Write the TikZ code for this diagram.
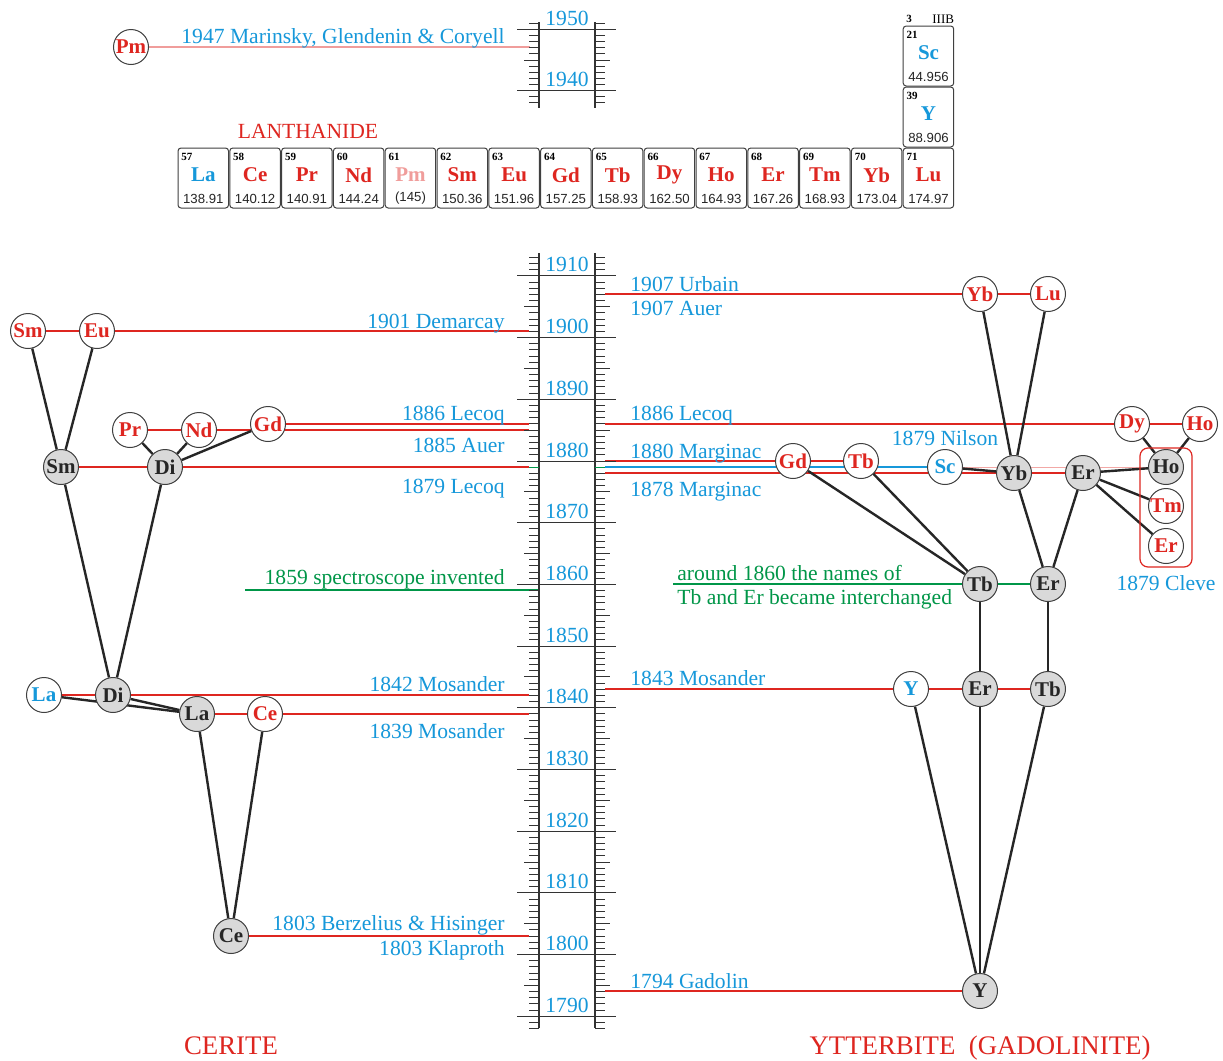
\documentclass[tikz,border=0pt]{standalone}
\usepackage{fontspec}
\setmainfont{Liberation Serif}
\setsansfont{Liberation Sans}
\usetikzlibrary{positioning}
\usetikzlibrary{backgrounds}
\definecolor{myred}{RGB}{222,38,32}
\definecolor{myblue}{RGB}{22,152,218}
\definecolor{mygreen}{RGB}{0,150,72}

\tikzset{
  elem/.style={circle,draw=black!75,line width=0.5pt,fill=white,minimum size=17.5pt,inner sep=0pt,font=\fontsize{10.5}{12}\selectfont\bfseries},
  oldel/.style={elem,fill=black!15,text=black!85},
  redel/.style={elem,text=myred},
  blueel/.style={elem,text=myblue},
  link/.style={draw=black!85,line width=1.2pt},
  redline/.style={draw=myred,line width=1pt},
  blueline/.style={draw=myblue,line width=1pt},
  greenline/.style={draw=mygreen,line width=0.8pt},
  lab/.style={text=myblue,font=\fontsize{10.8}{13}\selectfont,inner sep=0pt},
  glab/.style={lab,text=mygreen},
  rlab/.style={lab,text=myred},
  tick/.style={draw=black!80,line width=0.5pt},
  scaleline/.style={draw=black!80,line width=0.8pt},
  cellbox/.style={draw=black!75,line width=0.5pt,rounded corners=1.5pt},
  cellnum/.style={font=\fontsize{5.5}{6}\selectfont\bfseries,inner sep=0pt,anchor=west},
  cellsym/.style={font=\fontsize{10.5}{12}\selectfont\bfseries,inner sep=0pt},
  cellmass/.style={font=\sffamily\fontsize{6.6}{7}\selectfont,text=black!85,inner sep=0pt}
}

\begin{document}
\begin{tikzpicture}[x=0.5pt,y=-0.5pt]
\useasboundingbox (0,0) rectangle (1223,1061);

% time scale, 1790-1910
\draw[scaleline] (539,253) -- (539,1028);
\draw[scaleline] (595,253) -- (595,1028);
\foreach \yr in {1788,...,1913}{
  \pgfmathsetmacro\yy{461-6.17*(\yr-1880)}
  \draw[tick] (529,\yy) -- (539,\yy) (595,\yy) -- (605,\yy);
}
\foreach \yr in {1795,1805,...,1905}{
  \pgfmathsetmacro\yy{461-6.17*(\yr-1880)}
  \draw[tick] (524,\yy) -- (539,\yy) (595,\yy) -- (610,\yy);
}
\foreach \yr in {1790,1800,...,1910}{
  \pgfmathsetmacro\yy{461-6.17*(\yr-1880)}
  \draw[tick] (517,\yy) -- (616,\yy);
  \node[lab,anchor=base] (yr\yr) at (567,{\yy-4}) {\yr};
}
\draw[mygreen,line width=0.6pt] (529,467.2) -- (539,467.2) (595,467.2) -- (605,467.2);

% time scale, 1940-1950
\draw[scaleline] (539,22) -- (539,108);
\draw[scaleline] (595,22) -- (595,108);
\foreach \yr in {1938,...,1951}{
  \pgfmathsetmacro\yy{29.5+6.1*(1950-\yr)}
  \draw[tick] (529,\yy) -- (539,\yy) (595,\yy) -- (605,\yy);
}
\draw[tick] (524,60) -- (539,60) (595,60) -- (610,60);
\foreach \yr in {1940,1950}{
  \pgfmathsetmacro\yy{29.5+6.1*(1950-\yr)}
  \draw[tick] (517,\yy) -- (616,\yy);
  \node[lab,anchor=base] (yr\yr) at (567,{\yy-4.5}) {\yr};
}

% lanthanide row
\node[rlab,anchor=base] (lanth) at (308,138) {LANTHANIDE};
\foreach \i/\n/\s/\m/\c in {0/57/La/138.91/myblue,1/58/Ce/140.12/myred,2/59/Pr/140.91/myred,
  3/60/Nd/144.24/myred,4/61/Pm/(145)/myred!45,5/62/Sm/150.36/myred,6/63/Eu/151.96/myred,
  7/64/Gd/157.25/myred,8/65/Tb/158.93/myred,9/66/Dy/162.50/myred,10/67/Ho/164.93/myred,
  11/68/Er/167.26/myred,12/69/Tm/168.93/myred,13/70/Yb/173.04/myred,14/71/Lu/174.97/myred}{
  \pgfmathsetmacro\xa{178+51.8*\i}
  \draw[cellbox] (\xa,148) rectangle ++(50.5,60);
  \node[cellnum] (num\s) at ({\xa+3},157) {\n};
  \node[cellsym,text=\c] (sym\s) at ({\xa+25.3},175) {\s};
  \node[cellmass] (mass\s) at ({\xa+25.3},198.5) {\m};
}
% group 3
\node[cellnum] (grp) at (906,19) {3};
\node[cellnum,font=\fontsize{6.5}{7}\selectfont] (grpname) at (932,19) {IIIB};
\draw[cellbox] (903.2,26) rectangle ++(50.5,60);
\node[cellnum] (numSc) at (906.2,35) {21};
\node[cellsym,text=myblue] (symSc) at (928.5,53) {Sc};
\node[cellmass] (massSc) at (928.5,76.5) {44.956};
\draw[cellbox] (903.2,87) rectangle ++(50.5,60);
\node[cellnum] (numY) at (906.2,96) {39};
\node[cellsym,text=myblue] (symY) at (928.5,114) {Y};
\node[cellmass] (massY) at (928.5,137.5) {88.906};

% cerite side
\node[redel] (pm) at (131,47) {Pm};
\node[redel] (smN) at (28,331) {Sm};
\node[redel] (euN) at (97,331) {Eu};
\node[redel] (prN) at (130,430) {Pr};
\node[redel] (ndN) at (199,430) {Nd};
\node[redel] (gdN) at (268,424) {Gd};
\node[oldel] (smO) at (61,467) {Sm};
\node[oldel] (diO) at (165,467) {Di};
\node[blueel] (laN) at (44,695) {La};
\node[oldel] (diA) at (113,695) {Di};
\node[oldel] (laO) at (197,714) {La};
\node[redel] (ceN) at (265,714) {Ce};
\node[oldel] (ceO) at (231,936) {Ce};

% ytterbite side
\node[redel] (ybN) at (980,294) {Yb};
\node[redel] (luN) at (1048,294) {Lu};
\node[redel] (dyN) at (1132,424) {Dy};
\node[redel] (hoN) at (1200,424) {Ho};
\node[redel] (gdR) at (793,461) {Gd};
\node[redel] (tbN) at (861,461) {Tb};
\node[blueel] (scN) at (945,467) {Sc};
\node[oldel] (ybO) at (1014,473) {Yb};
\node[oldel] (erO) at (1083,473) {Er};
\node[oldel] (hoO) at (1166,467) {Ho};
\node[redel] (tmN) at (1166,506) {Tm};
\node[redel] (erN) at (1166,546) {Er};
\node[oldel] (tbO) at (980,584) {Tb};
\node[oldel] (erA) at (1048,584) {Er};
\node[blueel] (yN) at (911,689) {Y};
\node[oldel] (erB) at (980,689) {Er};
\node[oldel] (tbB) at (1048,689) {Tb};
\node[oldel] (yO) at (980,991) {Y};
\draw[myred,line width=0.6pt,rounded corners=4pt] (1140,448) rectangle (1192,567);

% free ends at the scale
\coordinate (e1947) at (530,47);
\coordinate (e1901) at (529,331);
\coordinate (e1886) at (529,424);
\coordinate (e1885) at (529,430);
\coordinate (e1879) at (529,467);
\coordinate (b1859) at (245,590);
\coordinate (e1859) at (539,590);
\coordinate (e1842) at (529,695);
\coordinate (e1839) at (529,714);
\coordinate (e1803) at (529,936);
\coordinate (s1907) at (605,294);
\coordinate (s1886) at (605,424);
\coordinate (s1880) at (605,461);
\coordinate (s1879) at (605,467);
\coordinate (s1878) at (605,473);
\coordinate (s1860) at (673,584);
\coordinate (s1843) at (605,689);
\coordinate (s1794) at (605,991);

\begin{scope}[on background layer]
\fill[white] (0,0) rectangle (1223,1061);
\draw[myred!45,line width=0.8pt] (pm.center) -- (e1947);
\draw[redline] (smN.center) -- (euN.center) -- (e1901);
\draw[redline] (gdN.center) -- (e1886);
\draw[redline] (prN.center) -- (e1885);
\draw[redline] (smO.center) -- (e1879);
\draw[greenline] (b1859) -- (e1859);
\draw[redline] (laN.center) -- (e1842);
\draw[redline] (laO.center) -- (e1839);
\draw[redline] (ceO.center) -- (e1803);
\draw[redline] (s1907) -- (ybN.center) -- (luN.center);
\draw[redline] (s1886) -- (dyN.center) -- (hoN.center);
\draw[redline] (s1880) -- (gdR.center) -- (tbN.center);
\draw[blueline] (s1879) -- (scN.center);
\draw[myred!40,line width=0.5pt] (scN.center) -- (hoO.center);
\draw[redline] (s1878) -- (ybO.center) -- (erO.center);
\draw[greenline] (s1860) -- (tbO.center) -- (erA.center);
\draw[redline] (s1843) -- (yN.center) -- (erB.center) -- (tbB.center);
\draw[redline] (s1794) -- (yO.center);
% separations
\draw[link] (smN) -- (smO);
\draw[link] (euN) -- (smO);
\draw[link] (prN) -- (diO);
\draw[link] (ndN) -- (diO);
\draw[link] (gdN) -- (diO);
\draw[link] (smO) -- (diA);
\draw[link] (diO) -- (diA);
\draw[link] (laO) -- (laN);
\draw[link] (laO) -- (diA);
\draw[link] (laO) -- (ceO);
\draw[link] (ceN) -- (ceO);
\draw[link] (ybN) -- (ybO);
\draw[link] (luN) -- (ybO);
\draw[link] (scN) -- (ybO);
\draw[link] (dyN) -- (hoO);
\draw[link] (hoN) -- (hoO);
\draw[link] (erO) -- (hoO);
\draw[link] (erO) -- (tmN);
\draw[link] (erO) -- (erN);
\draw[link] (gdR) -- (tbO);
\draw[link] (tbN) -- (tbO);
\draw[link] (ybO) -- (erA);
\draw[link] (erO) -- (erA);
\draw[link] (tbO) -- (erB);
\draw[link] (erA) -- (tbB);
\draw[link] (yN) -- (yO);
\draw[link] (erB) -- (yO);
\draw[link] (tbB) -- (yO);
\end{scope}

% left labels
\node[lab,anchor=base east] (t1947) at (505,43) {1947 Marinsky, Glendenin \& Coryell};
\node[lab,anchor=base east] (t1901) at (505,328) {1901 Demarcay};
\node[lab,anchor=base east] (t1886) at (505,420) {1886 Lecoq};
\node[lab,anchor=base east] (t1885) at (505,452) {1885 Auer};
\node[lab,anchor=base east] (t1879) at (505,493) {1879 Lecoq};
\node[glab,anchor=base east] (t1859) at (505,584) {1859 spectroscope invented};
\node[lab,anchor=base east] (t1842) at (505,691) {1842 Mosander};
\node[lab,anchor=base east] (t1839) at (505,738) {1839 Mosander};
\node[lab,anchor=base east] (t1803a) at (505,930) {1803 Berzelius \& Hisinger};
\node[lab,anchor=base east] (t1803b) at (505,955) {1803 Klaproth};

% right labels
\node[lab,anchor=base west] (r1907a) at (630,291) {1907 Urbain};
\node[lab,anchor=base west] (r1907b) at (630,315) {1907 Auer};
\node[lab,anchor=base west] (r1886) at (630,420) {1886 Lecoq};
\node[lab,anchor=base west] (r1880) at (630,458) {1880 Marginac};
\node[lab,anchor=base west] (r1878) at (630,496) {1878 Marginac};
\node[lab,anchor=base] (nilson) at (945,445) {1879 Nilson};
\node[glab,anchor=base west] (r1860a) at (677,580) {around 1860 the names of};
\node[glab,anchor=base west] (r1860b) at (677,604) {Tb and Er became interchanged};
\node[lab,anchor=base] (cleve) at (1166,590) {1879 Cleve};
\node[lab,anchor=base west] (r1843) at (630,685) {1843 Mosander};
\node[lab,anchor=base west] (r1794) at (630,988) {1794 Gadolin};

\node[rlab,anchor=base,font=\fontsize{13.4}{16}\selectfont] (cerite) at (231,1054) {CERITE};
\node[rlab,anchor=base,font=\fontsize{13.4}{16}\selectfont] (ytter) at (980,1054) {YTTERBITE\ \ (GADOLINITE)};
\end{tikzpicture}
\end{document}
